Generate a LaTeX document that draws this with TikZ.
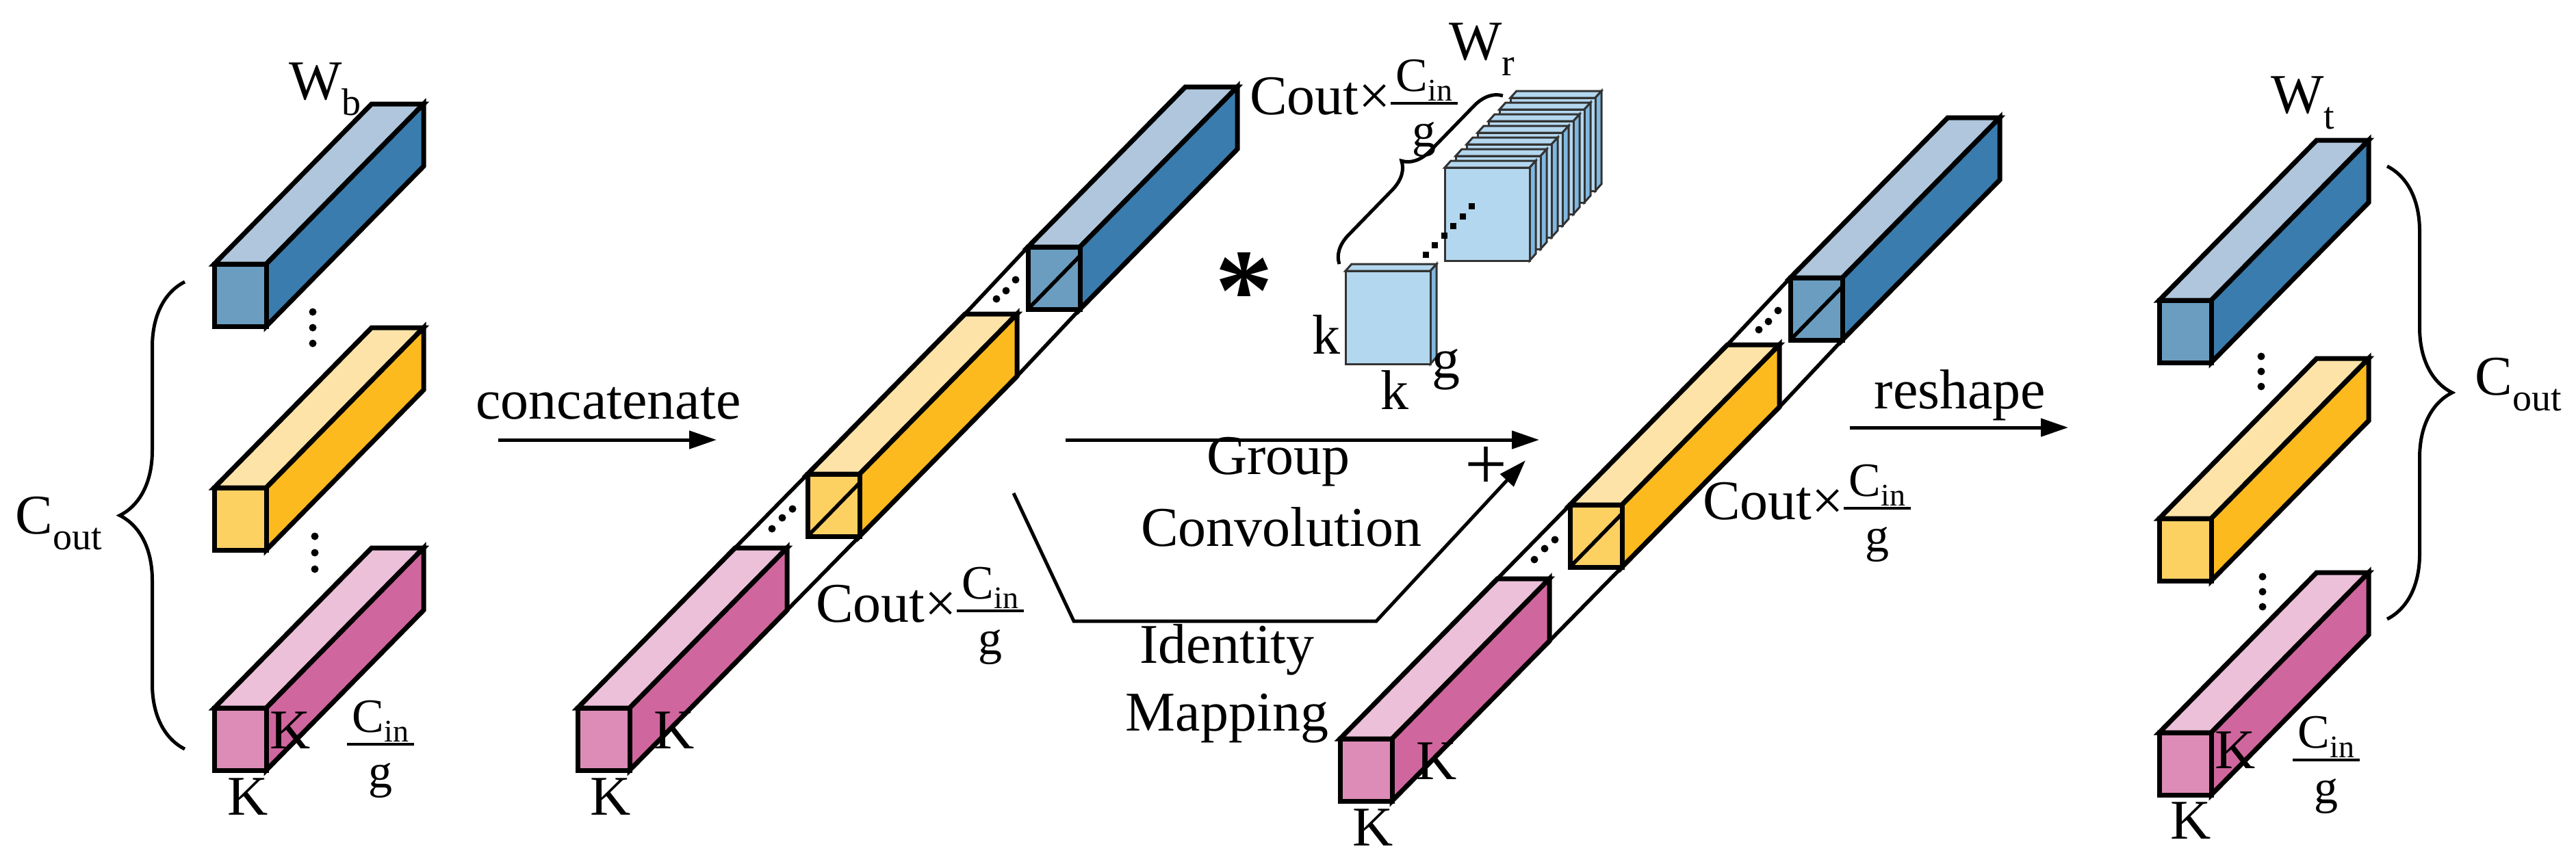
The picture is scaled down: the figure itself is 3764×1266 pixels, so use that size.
\documentclass[tikz,border=0pt]{standalone}
\usepackage{fontspec}
\setmainfont{Liberation Serif}
\usetikzlibrary{decorations.pathreplacing,arrows.meta}
\definecolor{bT}{HTML}{AFC6DC}\definecolor{bR}{HTML}{3A7CAD}\definecolor{bF}{HTML}{6A9DC0}
\definecolor{yT}{HTML}{FDE3A8}\definecolor{yR}{HTML}{FDBA1E}\definecolor{yF}{HTML}{FDD062}
\definecolor{pT}{HTML}{EBC0D8}\definecolor{pR}{HTML}{D0669E}\definecolor{pF}{HTML}{DC8CB6}
\definecolor{kC}{HTML}{B3D7EF}\definecolor{kD}{HTML}{7FB8E0}
\newcommand\myprism[3]{% x y colorprefix
 \draw[ln,fill=#3T] (#1,#2) -- ({#1+230},{#2-234}) -- ({#1+306},{#2-234}) -- ({#1+76},#2) -- cycle;
 \draw[ln,fill=#3R] ({#1+76},#2) -- ({#1+306},{#2-234}) -- ({#1+306},{#2-143}) -- ({#1+76},{#2+91}) -- cycle;
 \draw[ln,fill=#3F] (#1,#2) rectangle ({#1+76},{#2+91});}
\newcommand\myinner[2]{\draw[thn] (#1,{#2+91}) -- ({#1+76},{#2+13});}
\newcommand\mylong[2]{% front of pink block
 \draw[thn] ({#1+230},{#2-234}) -- ({#1+336},{#2-342});
 \draw[thn] ({#1+306},{#2-143}) -- ({#1+412},{#2-251});
 \draw[thn] ({#1+566},{#2-576}) -- ({#1+658},{#2-674});
 \draw[thn] ({#1+642},{#2-485}) -- ({#1+734},{#2-583});
 \myprism{#1+658}{#2-674}{b}\myinner{#1+658}{#2-674}
 \myprism{#1+336}{#2-342}{y}\myinner{#1+336}{#2-342}
 \myprism{#1}{#2}{p}
 \foreach \a/\b in {284/-262,299/-278,314/-291,612/-598,626/-610,640/-626}
   \fill ({#1+\a},{#2+\b}) circle (5.5);}
\newcommand\mysub[2]{#1\raisebox{-0.28em}{\fontsize{56}{60}\selectfont #2}}
\setlength\arrayrulewidth{3.5pt}
\newcommand\myfrac{\raisebox{0.02em}{\fontsize{70}{72}\selectfont\setlength\tabcolsep{8pt}\begin{tabular}{c}C\raisebox{-0.2em}{\fontsize{46}{46}\selectfont in}\\[-6pt]\hline\rule{0pt}{62pt}g\end{tabular}}}
\newcommand\mykern[2]{%
 \draw[thin,fill=kC] (#1,#2) -- ({#1+9},{#2-10}) -- ({#1+133},{#2-10}) -- ({#1+124},#2) -- cycle;
 \draw[thin,fill=kD] ({#1+124},#2) -- ({#1+133},{#2-10}) -- ({#1+133},{#2+126}) -- ({#1+124},{#2+136}) -- cycle;
 \draw[thin,fill=kC] (#1,#2) rectangle ({#1+124},{#2+136});}
\begin{document}
\begin{tikzpicture}[x=1pt,y=-1pt,
 ln/.style={line width=7pt,line join=miter},
 thn/.style={line width=5.5pt},
 thin/.style={line width=3pt,draw=black!80},
 txt/.style={font=\fontsize{82}{90}\selectfont,inner sep=0},
 arr/.style={line width=5pt,-{Triangle[length=40pt,width=26pt]}}]
\useasboundingbox (0,0) rectangle (3764,1266);
% left column
\myprism{313}{386}{b}
\myprism{313}{713}{y}
\myprism{313}{1035}{p}
\foreach \yy in {456,479,502} \fill (457,\yy) circle (5.5);
\foreach \yy in {784,808,832} \fill (460,\yy) circle (5.5);
\node[txt] (wb) at (475,130) {\mysub{W}{b}};
\draw[line width=5pt,decorate,decoration={brace,amplitude=95pt}] (270,1095) -- (270,412);
\node[txt] (c1) at (86,765) {\mysub{C}{out}};
\node[txt] (k1) at (424,1068) {K};
\node[txt] (k2) at (362,1165) {K};
\node[txt] (f1) at (556,1097) {\myfrac};
% concatenate
\node[txt] (cc) at (889,590) {concatenate};
\coordinate (a1) at (728,643); \coordinate (a2) at (1047,643);
\draw[arr] (a1) -- (a2);
% middle long bar
\mylong{844}{1035}
\node[txt] (k3) at (985,1068) {K};
\node[txt] (k4) at (892,1165) {K};
\node[txt,anchor=west] (m1) at (1192,902) {Cout×\myfrac};
\node[txt,anchor=west] (m2) at (1826,160) {Cout×\myfrac};
% star and kernels
\node[txt] (st) at (1818,425) {\fontsize{170}{170}\selectfont\bfseries *};
\foreach \i in {6,5,...,1} {\mykern{2111+16*\i}{245-17*\i}}
\mykern{2111}{245}
\mykern{1966}{396}
\foreach \t in {0,0.17,...,1} \fill[black] ({2079+79*\t},{377-83*\t}) rectangle ++(9,-9);
\draw[line width=5pt,decorate,decoration={brace,amplitude=40pt}] (1957,386) -- (2196,140);
\node[txt] (wr) at (2165,72) {\mysub{W}{r}};
\node[txt] (kk1) at (1938,489) {k};
\node[txt] (kk2) at (2038,570) {k};
\node[txt] (kk3) at (2113,540) {g};
% group conv arrows
\coordinate (g1) at (1557,643); \coordinate (g2) at (2249,643);
\draw[arr] (g1) -- (g2);
\node[txt] (gc1) at (1868,675) {Group};
\node[txt] (gc2) at (1872,770) {Convolution};
\coordinate (i0) at (1481,721); \coordinate (i1) at (1569,908); \coordinate (i2) at (2011,908); \coordinate (i3) at (2229,673);
\draw[arr,line join=miter] (i0) -- (i1) -- (i2) -- (i3);
\node[txt] (pl) at (2171,684) {\fontsize{110}{110}\selectfont +};
\node[txt] (id1) at (1793,950) {Identity};
\node[txt] (id2) at (1793,1050) {Mapping};
% third bar
\mylong{1958}{1080}
\node[txt] (k5) at (2099,1113) {K};
\node[txt] (k6) at (2006,1210) {K};
\node[txt,anchor=west] (m3) at (2488,752) {Cout×\myfrac};
% reshape
\node[txt] (rs) at (2864,578) {reshape};
\coordinate (r1) at (2703,625); \coordinate (r2) at (3022,625);
\draw[arr] (r1) -- (r2);
% right column
\myprism{3155}{439}{b}
\myprism{3155}{758}{y}
\myprism{3155}{1071}{p}
\foreach \yy in {521,543,565} \fill (3304,\yy) circle (5.5);
\foreach \yy in {843,865,887} \fill (3306,\yy) circle (5.5);
\node[txt] (wt) at (3365,150) {\mysub{W}{t}};
\draw[line width=5pt,decorate,decoration={brace,amplitude=95pt}] (3488,243) -- (3488,905);
\node[txt] (c2) at (3680,562) {\mysub{C}{out}};
\node[txt] (k7) at (3266,1097) {K};
\node[txt] (k8) at (3201,1200) {K};
\node[txt] (f2) at (3399,1120) {\myfrac};
\end{tikzpicture}
\end{document}
